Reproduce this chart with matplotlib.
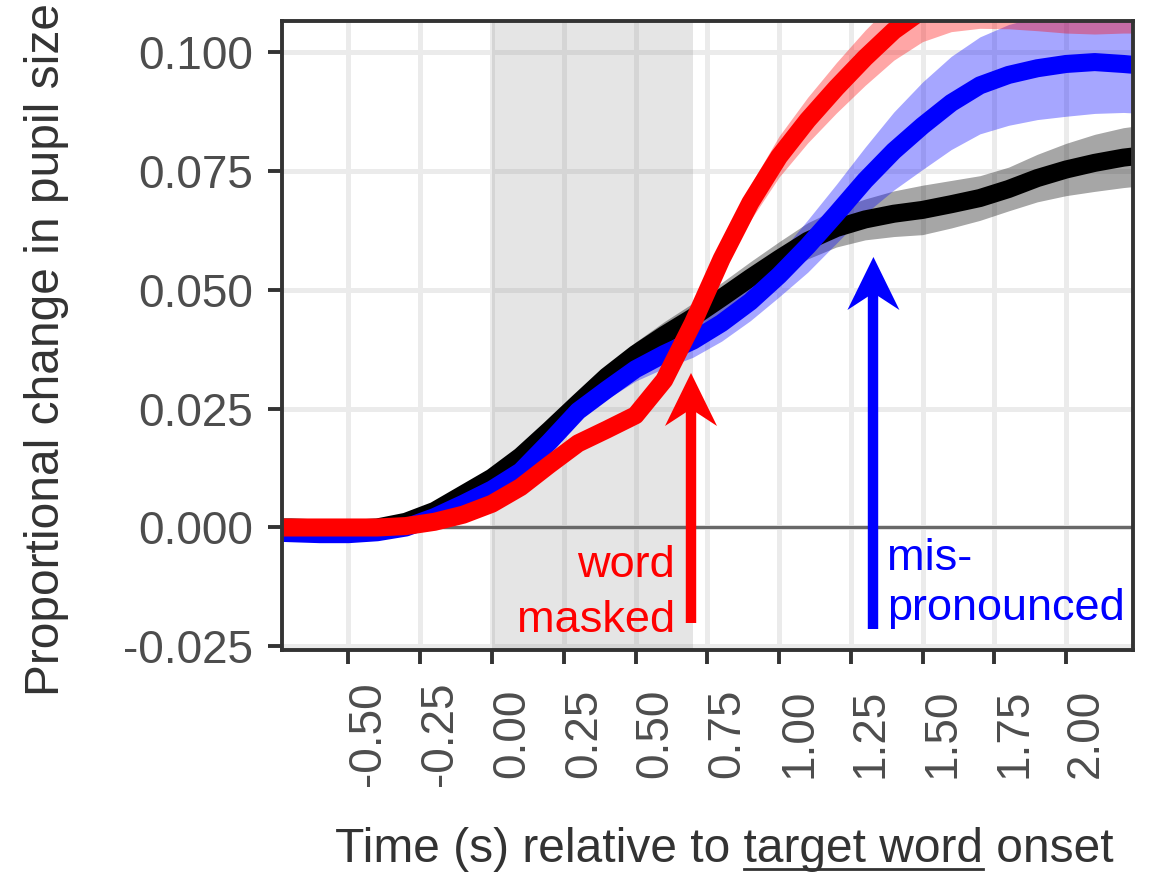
import numpy as np
import matplotlib
matplotlib.use("Agg")
import matplotlib.pyplot as plt
from matplotlib.patches import Polygon
from matplotlib.lines import Line2D
from matplotlib.transforms import ScaledTranslation

plt.rcParams['font.family'] = ['Liberation Sans', 'DejaVu Sans']

# time (s) relative to target word onset
time = [-0.8, -0.7, -0.6, -0.5, -0.4, -0.3, -0.2, -0.1, 0.0,
        0.1, 0.2, 0.3, 0.4, 0.5, 0.6, 0.7, 0.8, 0.9, 1.0, 1.1, 1.2,
        1.3, 1.4, 1.5, 1.6, 1.7, 1.8, 1.9, 2.0, 2.1, 2.2, 2.3]

# baseline condition (black)
black = [0.0000, 0.0000, -0.0002, -0.0003, 0.0000, 0.0012, 0.0035, 0.0070, 0.0105,
         0.0150, 0.0205, 0.0262, 0.0318, 0.0365, 0.0405, 0.0442, 0.0483, 0.0525, 0.0565,
         0.0603, 0.0630, 0.0648, 0.0660, 0.0668, 0.0680, 0.0693, 0.0712, 0.0735, 0.0753,
         0.0767, 0.0778, 0.0785]
black_se = [0.0008, 0.0008, 0.0008, 0.0008, 0.0008, 0.0009, 0.0010, 0.0010, 0.0010,
            0.0011, 0.0012, 0.0015, 0.0020, 0.0025, 0.0028, 0.0030, 0.0032, 0.0034, 0.0036,
            0.0038, 0.0040, 0.0043, 0.0048, 0.0052, 0.0050, 0.0047, 0.0046, 0.0050, 0.0055,
            0.0060, 0.0063, 0.0064]

# mispronounced (blue)
blue = [-0.0010, -0.0012, -0.0014, -0.0014, -0.0010, 0.0000, 0.0022, 0.0050, 0.0080,
        0.0118, 0.0180, 0.0245, 0.0290, 0.0333, 0.0365, 0.0393, 0.0430, 0.0475, 0.0530,
        0.0592, 0.0660, 0.0730, 0.0792, 0.0845, 0.0893, 0.0930, 0.0952, 0.0966, 0.0975,
        0.0979, 0.0975, 0.0970]
blue_se = [0.0008, 0.0008, 0.0008, 0.0008, 0.0008, 0.0009, 0.0010, 0.0010, 0.0010,
           0.0011, 0.0013, 0.0017, 0.0020, 0.0025, 0.0030, 0.0035, 0.0038, 0.0040, 0.0045,
           0.0055, 0.0062, 0.0070, 0.0082, 0.0092, 0.0098, 0.0102, 0.0106, 0.0108, 0.0110,
           0.0108, 0.0102, 0.0100]

# word masked (red)
red = [0.0000, 0.0000, 0.0000, 0.0000, 0.0000, 0.0003, 0.0012, 0.0027, 0.0050,
       0.0085, 0.0132, 0.0177, 0.0206, 0.0236, 0.0310, 0.0430, 0.0565, 0.0683, 0.0780,
       0.0857, 0.0925, 0.0988, 0.1045, 0.1088, 0.1115, 0.1128, 0.1132, 0.1133, 0.1130,
       0.1128, 0.1128, 0.1128]
red_se = [0.0008, 0.0008, 0.0008, 0.0008, 0.0008, 0.0009, 0.0010, 0.0010, 0.0010,
          0.0010, 0.0010, 0.0012, 0.0015, 0.0018, 0.0020, 0.0025, 0.0030, 0.0037, 0.0043,
          0.0048, 0.0053, 0.0058, 0.0062, 0.0066, 0.0072, 0.0078, 0.0083, 0.0088, 0.0090,
          0.0090, 0.0088, 0.0088]

x_ticks = [-0.50, -0.25, 0.00, 0.25, 0.50, 0.75, 1.00, 1.25, 1.50, 1.75, 2.00]
y_ticks = [-0.025, 0.000, 0.025, 0.050, 0.075, 0.100]
word_window = (0.0, 0.7)

W, H = 1153, 874
fig = plt.figure(figsize=(W / 100, H / 100), dpi=100)
ax = fig.add_axes([282 / W, 1 - 650 / H, (1133 - 282) / W, (650 - 21) / H])
ax.set_xlim(-0.7317, 2.2334)
ax.set_ylim(-0.02577, 0.10654)

ax.set_axisbelow(True)
ax.grid(True, color='#ebebeb', lw=3.6)
ax.axvspan(*word_window, color='grey', alpha=0.2, lw=0, zorder=1)
ax.axhline(0, color='#686868', lw=2.3, zorder=1.5)

series = [(black, black_se, 'black'), (blue, blue_se, '#0000ff'), (red, red_se, '#ff0000')]
t = np.array(time)
for m, se, c in series:
    m = np.array(m)
    se = np.array(se)
    ax.fill_between(t, m - se, m + se, color=c, alpha=0.35, lw=0, zorder=2)
for m, se, c in series:
    ax.plot(t, m, color=c, lw=13, solid_capstyle='butt', solid_joinstyle='round', zorder=3)

# arrows with a notched head
ax_h_px = (650 - 21)
px_to_y = (0.10654 + 0.02577) / ax_h_px
arrows = [(0.6934, -0.0201, 0.0325, '#ff0000'), (1.329, -0.02135, 0.0569, '#0000ff')]
for ax_x, y0, y1, c in arrows:
    ax.plot([ax_x, ax_x], [y0, y1 - 36 * px_to_y], color=c, lw=7.5,
            solid_capstyle='butt', zorder=4)
    tr = fig.dpi_scale_trans + ScaledTranslation(ax_x, y1, ax.transData)
    head = Polygon([(0, 0), (0.26, -0.53), (0, -0.36), (-0.26, -0.53)], closed=True,
                   transform=tr, facecolor=c, edgecolor='none', zorder=4)
    ax.add_patch(head)

ax.text(0.6376, -0.01041, "word", color='#ff0000', fontsize=32.5, ha='right', va='baseline', zorder=5)
ax.text(0.6376, -0.02198, "masked", color='#ff0000', fontsize=32.5, ha='right', va='baseline', zorder=5)
ax.text(1.3763, -0.00894, "mis-", color='#0000ff', fontsize=32.5, ha='left', va='baseline', zorder=5)
ax.text(1.3763, -0.01945, "pronounced", color='#0000ff', fontsize=32.5, ha='left', va='baseline', zorder=5)

for s in ax.spines.values():
    s.set_color('#333333')
    s.set_linewidth(2.8)
    s.set_zorder(6)

ax.set_xticks(x_ticks)
ax.set_xticklabels(["%.2f" % v for v in x_ticks])
ax.set_yticks(y_ticks)
ax.set_yticklabels(["%.3f" % v for v in y_ticks])
ax.tick_params(axis='both', length=10, width=2.8, color='#333333', labelcolor='#4d4d4d', labelsize=33)
ax.tick_params(axis='y', pad=10.8)
ax.tick_params(axis='x', pad=50)
offset = ScaledTranslation(0.2, 0, fig.dpi_scale_trans)
for lab in ax.get_xticklabels():
    lab.set_rotation(90)
    lab.set_va('center')
    lab.set_ha('center')
    lab.set_transform(lab.get_transform() + offset)

fig.text(47 / W, 1 - 350 / H, "Proportional change in pupil size", rotation=90,
         ha='center', va='center', fontsize=34.5, color='#333333')

title_kw = dict(fontsize=34.5, color='#333333', ha='left', va='baseline')
tx, ty = 335 / W, 1 - 862 / H
fig.text(tx, ty, "Time (s) relative to target word onset", **title_kw)
fig.canvas.draw()
r = fig.canvas.get_renderer()
tmp = fig.text(tx, ty, "Time (s) relative to target word", **title_kw)
end_px = tmp.get_window_extent(r).x1
tmp.remove()
tmp = fig.text(tx, ty, "target word", **title_kw)
w_px = tmp.get_window_extent(r).width
tmp.remove()
uy = 1 - 869 / H
fig.add_artist(Line2D([(end_px - w_px) / W, end_px / W], [uy, uy], transform=fig.transFigure,
                      color='#333333', lw=2))

fig.savefig("out.png", dpi=100)
